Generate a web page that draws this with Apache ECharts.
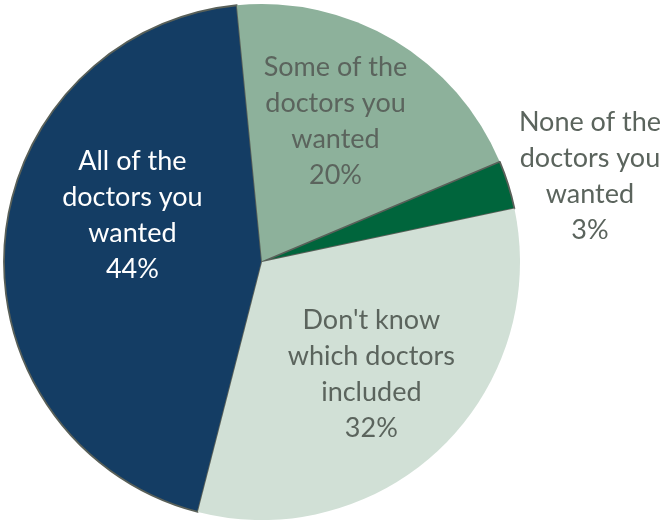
<!DOCTYPE html>
<html>
<head>
<meta charset="utf-8">
<script src="https://cdn.jsdelivr.net/npm/echarts@6/dist/echarts.min.js"></script>
<style>
  html, body { margin: 0; padding: 0; background: #ffffff; }
  #chart { width: 664px; height: 520px; }
</style>
</head>
<body>
<div id="chart"></div>
<script>
// Survey answers: how many of the wanted doctors were in the plan
const categories = [
  'All of the\ndoctors you\nwanted',
  'Some of the\ndoctors you\nwanted',
  'None of the\ndoctors you\nwanted',
  "Don't know\nwhich doctors\nincluded"
];
const shares = [44, 20, 3, 32];

const sliceColors = ['#143d64', '#8db19b', '#00653c', '#d1e0d6'];
const labelColors = ['#ffffff', '#5b645d', '#5b645d', '#5b645d'];
const edgeColors = ['#596059', null, '#596059', null];
// label nudges away from the slice mid-radius point
const labelShift = [[2, -37], [6, -27], [202, -46], [18, 17]];

const chart = echarts.init(document.getElementById('chart'), null, { renderer: 'canvas' });

chart.setOption({
  animation: false,
  series: [{
    type: 'pie',
    center: [262, 262],
    radius: [0, 258],
    startAngle: 255.6,
    clockwise: true,
    label: {
      position: 'inside',
      formatter: p => p.name + '\n' + p.value + '%',
      fontFamily: 'Lato, "Open Sans", sans-serif',
      fontSize: 27,
      lineHeight: 36,
      align: 'center'
    },
    labelLine: { show: false },
    labelLayout: p => ({ dx: labelShift[p.dataIndex][0], dy: labelShift[p.dataIndex][1] }),
    emphasis: { disabled: true },
    data: categories.map((name, i) => ({
      name: name,
      value: shares[i],
      itemStyle: {
        color: sliceColors[i],
        borderColor: edgeColors[i] || sliceColors[i],
        borderWidth: edgeColors[i] ? 1.8 : 0
      },
      label: { color: labelColors[i] }
    }))
  }]
});
</script>
</body>
</html>
